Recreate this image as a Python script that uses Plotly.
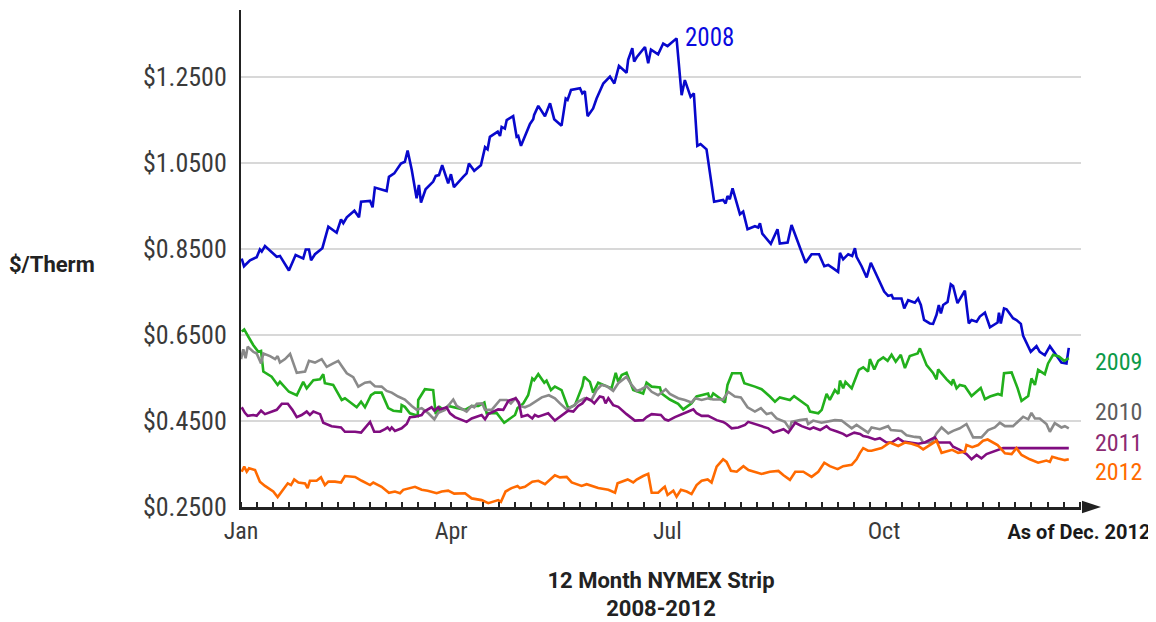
import plotly.graph_objects as go

# x = day of the year (Jan 1 = 0), y = $/Therm
days_2008 = [0.3,1.3,3.9,6.8,8.2,9.0,10.4,13.9,15.5,16.9,
20.8,23.7,27.0,28.1,29.5,30.4,32.1,35.3,37.9,41.5,
43.4,44.4,45.9,49.2,51.2,52.1,56.0,57.1,58.1,63.2,
64.2,66.5,69.4,71.1,72.3,74.1,76.2,77.2,78.1,80.1,
83.4,84.5,85.9,87.3,89.9,91.1,92.4,96.4,97.9,98.9,
101.2,104.1,105.9,107.0,108.0,111.4,112.4,113.1,114.5,115.3,
118.1,119.6,120.3,121.5,123.2,125.4,126.8,127.2,129.0,131.9,
134.1,135.9,139.1,140.9,141.7,143.2,147.1,148.1,149.2,150.4,
152.8,154.3,157.2,160.1,162.0,164.0,167.3,168.0,169.8,170.6,
171.7,175.3,176.7,177.9,181.0,183.2,185.1,189.0,191.2,192.6,
195.1,196.5,198.0,199.4,202.0,205.3,209.2,210.3,211.1,212.1,
213.3,216.5,217.9,219.8,223.0,224.4,225.2,226.2,229.9,232.8,
233.8,237.2,238.9,241.8,245.0,247.6,250.8,253.1,254.8,257.0,
259.1,259.9,261.3,263.5,265.2,266.4,267.1,269.3,271.5,273.3,
275.4,279.1,280.8,282.3,283.0,286.6,287.8,289.5,292.4,293.8,
295.0,296.4,298.9,300.3,301.8,302.8,303.7,304.7,306.6,308.0,
309.0,310.9,314.1,315.8,317.0,319.2,320.6,322.8,325.0,328.3,
328.9,329.7,331.1,332.2,335.0,336.5,338.4,339.4,342.7,345.2,
346.6,348.8,351.0,352.8,356.0,358.2,359.2]
vals_2008 = [0.828,0.810,0.824,0.831,0.849,0.844,0.857,0.841,0.832,0.834,
0.800,0.836,0.828,0.849,0.849,0.824,0.838,0.852,0.902,0.888,
0.919,0.910,0.924,0.939,0.924,0.960,0.962,0.947,0.993,0.985,
1.018,1.026,1.049,1.053,1.079,1.034,0.968,0.999,0.958,0.989,
1.007,1.020,1.022,1.045,1.003,1.024,0.994,1.018,1.026,1.049,
1.032,1.045,1.087,1.082,1.111,1.123,1.113,1.134,1.130,1.150,
1.159,1.111,1.113,1.090,1.111,1.141,1.152,1.162,1.183,1.159,
1.189,1.152,1.137,1.200,1.197,1.220,1.224,1.212,1.217,1.159,
1.177,1.200,1.235,1.251,1.235,1.276,1.260,1.290,1.317,1.286,
1.296,1.320,1.282,1.314,1.303,1.328,1.322,1.340,1.208,1.243,
1.204,1.212,1.090,1.094,1.082,0.960,0.964,0.956,0.973,0.966,
0.991,0.931,0.937,0.896,0.903,0.900,0.910,0.886,0.862,0.896,
0.863,0.865,0.906,0.865,0.818,0.838,0.838,0.810,0.813,0.805,
0.797,0.841,0.826,0.838,0.834,0.852,0.832,0.810,0.784,0.818,
0.794,0.751,0.741,0.743,0.735,0.735,0.712,0.731,0.725,0.735,
0.720,0.685,0.677,0.676,0.697,0.720,0.700,0.720,0.727,0.768,
0.764,0.724,0.753,0.677,0.685,0.681,0.693,0.702,0.668,0.679,
0.702,0.677,0.712,0.710,0.689,0.685,0.676,0.648,0.611,0.624,
0.611,0.603,0.624,0.611,0.586,0.584,0.620]

days_2009 = [0.3,1.4,3.2,5.3,7.5,8.7,9.7,13.3,15.9,16.9,
20.8,24.2,27.0,28.5,31.4,34.3,35.7,36.4,40.0,43.7,
45.1,50.2,52.1,53.8,56.4,58.1,61.0,63.9,66.1,69.4,
69.7,71.1,73.3,76.7,76.9,79.8,83.4,84.5,86.3,87.8,
89.9,92.8,97.2,100.1,103.0,105.6,106.6,110.9,114.2,118.9,
120.0,122.5,124.6,126.4,127.2,129.0,131.6,132.6,134.5,136.2,
139.1,142.0,144.9,148.1,148.9,151.4,152.8,155.0,157.6,160.8,
162.6,163.7,165.2,167.3,170.2,174.5,176.0,178.2,181.8,182.5,
186.1,188.3,189.7,191.9,195.5,197.7,202.7,203.5,204.9,207.8,
210.0,211.1,213.1,216.9,218.4,223.0,225.9,229.5,231.7,233.8,
236.3,238.2,240.0,243.3,245.9,246.9,250.5,252.0,254.1,255.5,
257.7,259.2,259.9,261.3,262.3,265.0,268.1,270.0,272.1,272.9,
274.8,276.5,278.7,280.6,282.3,284.1,286.3,288.1,290.2,293.6,
294.6,297.5,300.3,301.8,302.5,306.2,308.3,309.0,310.5,311.9,
314.1,317.0,321.0,322.8,325.0,328.5,330.0,331.1,334.4,337.0,
338.7,341.6,343.0,344.5,345.9,348.8,350.2,352.4,354.9,357.2,
359.2]
vals_2009 = [0.658,0.663,0.646,0.627,0.611,0.613,0.565,0.553,0.534,0.541,
0.518,0.510,0.541,0.526,0.545,0.547,0.559,0.538,0.534,0.499,
0.503,0.482,0.495,0.482,0.510,0.516,0.516,0.480,0.474,0.472,
0.487,0.483,0.468,0.462,0.499,0.524,0.522,0.466,0.482,0.476,
0.485,0.482,0.476,0.485,0.485,0.493,0.468,0.469,0.446,0.464,
0.480,0.491,0.510,0.549,0.545,0.559,0.539,0.544,0.522,0.530,
0.522,0.480,0.487,0.531,0.553,0.541,0.516,0.539,0.534,0.526,
0.562,0.541,0.557,0.562,0.522,0.514,0.539,0.530,0.528,0.514,
0.500,0.495,0.490,0.477,0.491,0.507,0.514,0.500,0.514,0.503,
0.493,0.534,0.561,0.561,0.538,0.530,0.524,0.507,0.495,0.505,
0.501,0.499,0.508,0.495,0.485,0.472,0.468,0.476,0.513,0.499,
0.522,0.513,0.544,0.526,0.541,0.526,0.569,0.575,0.565,0.594,
0.570,0.590,0.598,0.590,0.604,0.588,0.604,0.573,0.601,0.607,
0.619,0.580,0.562,0.547,0.570,0.547,0.536,0.547,0.526,0.534,
0.531,0.508,0.527,0.501,0.507,0.513,0.510,0.561,0.563,0.526,
0.497,0.508,0.549,0.534,0.569,0.559,0.584,0.604,0.600,0.590,
0.596]

days_2010 = [0.0,1.0,2.0,2.9,5.3,6.8,8.7,9.7,12.6,14.8,
15.9,16.9,19.1,21.3,24.2,27.8,29.5,32.1,35.0,37.2,
40.0,42.2,43.7,45.9,48.7,50.9,53.8,56.0,58.1,61.0,
63.2,65.4,68.2,71.1,74.1,76.2,78.4,81.3,83.9,85.6,
88.5,92.1,93.6,97.9,100.1,101.2,102.3,104.7,105.9,108.8,
112.4,115.3,117.1,119.2,121.0,123.2,125.4,127.5,130.5,133.6,
136.2,138.4,141.3,144.2,146.3,149.2,152.1,154.3,156.5,158.7,
161.5,163.7,167.3,169.5,171.7,173.8,176.0,178.2,181.0,184.3,
186.1,189.7,192.6,195.5,197.0,199.9,202.7,204.9,209.2,211.4,
214.3,216.9,219.8,223.0,225.6,228.1,230.2,232.4,236.0,238.2,
238.9,242.5,245.4,246.1,248.3,251.9,257.7,260.6,265.0,267.1,
272.1,273.6,277.2,280.8,282.0,286.6,288.8,292.4,294.6,296.0,
299.7,301.8,304.0,306.9,309.0,311.9,314.8,317.7,321.3,324.2,
327.1,329.3,331.5,335.0,337.9,339.4,341.6,343.0,344.5,346.6,
349.5,351.0,353.1,356.0,357.5,359.2]
vals_2010 = [0.594,0.617,0.596,0.623,0.611,0.607,0.584,0.607,0.601,0.594,
0.601,0.586,0.594,0.606,0.562,0.565,0.590,0.586,0.594,0.576,
0.584,0.590,0.578,0.561,0.552,0.530,0.539,0.541,0.531,0.530,
0.520,0.516,0.507,0.500,0.485,0.476,0.480,0.468,0.454,0.469,
0.476,0.500,0.485,0.472,0.485,0.482,0.490,0.491,0.476,0.476,
0.499,0.499,0.491,0.503,0.485,0.482,0.487,0.495,0.505,0.510,
0.503,0.491,0.477,0.485,0.495,0.503,0.499,0.522,0.534,0.531,
0.520,0.538,0.553,0.534,0.520,0.524,0.531,0.518,0.510,0.524,
0.513,0.503,0.499,0.493,0.503,0.499,0.503,0.500,0.500,0.518,
0.507,0.505,0.482,0.472,0.480,0.466,0.469,0.456,0.448,0.431,
0.448,0.452,0.454,0.443,0.451,0.446,0.452,0.451,0.433,0.441,
0.423,0.435,0.431,0.438,0.429,0.427,0.417,0.413,0.412,0.400,
0.400,0.421,0.435,0.421,0.427,0.433,0.443,0.412,0.412,0.429,
0.435,0.446,0.438,0.438,0.451,0.460,0.454,0.469,0.456,0.456,
0.443,0.425,0.445,0.435,0.438,0.433]

days_2011 = [0.3,1.7,2.9,5.3,6.8,8.7,10.4,13.3,15.5,17.7,
20.3,22.3,24.2,26.3,28.5,29.9,31.4,34.3,35.7,39.3,
43.4,45.1,49.5,52.1,53.8,56.0,57.8,60.3,62.5,63.6,
64.6,65.4,66.8,69.7,71.9,73.3,75.5,78.4,79.5,82.7,
83.9,85.6,86.3,89.2,90.7,92.1,92.8,97.9,100.1,104.4,
105.9,107.3,111.6,113.8,116.0,119.2,120.6,121.8,124.4,126.4,
127.5,129.0,133.3,136.2,138.4,140.6,142.0,144.2,146.3,148.1,
150.0,152.1,153.3,155.7,157.2,158.2,159.4,161.5,163.7,167.3,
170.9,174.5,176.0,178.2,181.0,182.2,183.9,185.4,188.3,191.9,
194.1,196.3,197.7,199.9,202.7,206.4,209.2,210.7,212.9,215.8,
218.7,220.1,223.0,225.9,228.8,231.0,233.2,235.4,237.5,240.5,
243.3,246.9,248.4,251.3,254.1,255.6,258.9,261.3,262.8,266.1,
268.6,270.0,272.1,275.1,277.2,280.1,282.3,285.2,287.4,291.7,
293.9,296.7,301.1,302.5,305.4,307.6,309.0,311.9,314.8,317.0,
319.2,321.3,323.5,326.4,330.7,359.2]
vals_2011 = [0.482,0.469,0.462,0.464,0.462,0.474,0.466,0.472,0.476,0.490,
0.490,0.476,0.459,0.464,0.472,0.464,0.472,0.466,0.446,0.438,
0.435,0.425,0.425,0.423,0.433,0.448,0.425,0.425,0.431,0.435,
0.429,0.435,0.427,0.433,0.443,0.459,0.460,0.464,0.472,0.482,
0.474,0.482,0.477,0.482,0.468,0.462,0.459,0.448,0.456,0.464,
0.454,0.466,0.477,0.476,0.497,0.503,0.493,0.460,0.464,0.456,
0.464,0.460,0.468,0.451,0.460,0.469,0.474,0.472,0.485,0.491,
0.503,0.497,0.491,0.507,0.505,0.491,0.503,0.487,0.483,0.466,
0.451,0.452,0.459,0.466,0.464,0.464,0.454,0.451,0.459,0.466,
0.472,0.477,0.468,0.462,0.462,0.452,0.448,0.443,0.433,0.435,
0.441,0.448,0.443,0.438,0.433,0.423,0.427,0.431,0.423,0.446,
0.438,0.431,0.435,0.429,0.438,0.431,0.425,0.420,0.415,0.423,
0.420,0.415,0.413,0.407,0.410,0.400,0.400,0.410,0.402,0.398,
0.397,0.400,0.412,0.400,0.400,0.400,0.390,0.383,0.373,0.361,
0.371,0.363,0.373,0.379,0.387,0.387]

days_2012 = [0.3,1.4,2.5,3.5,6.1,8.2,10.4,14.0,15.9,17.7,
20.3,21.7,23.1,24.9,27.8,28.9,29.9,32.8,34.7,36.4,
37.9,40.8,43.4,45.1,49.5,52.4,56.0,57.4,61.0,64.2,
66.8,69.0,70.4,75.5,78.4,81.0,84.9,87.1,89.9,92.5,
97.2,100.1,104.4,107.3,111.6,112.8,114.8,117.4,120.0,121.0,
123.2,126.4,129.0,131.9,136.2,138.4,141.3,143.5,147.8,150.0,
152.1,155.0,159.4,162.3,163.4,165.2,167.8,170.2,171.7,174.5,
176.7,178.2,181.0,183.2,183.9,185.1,187.6,189.0,190.9,193.4,
195.5,197.7,199.9,202.5,204.2,206.4,209.2,210.7,212.6,215.1,
218.0,220.2,223.0,225.9,229.5,233.2,235.4,238.2,240.5,244.0,
247.6,250.5,253.1,255.5,258.9,261.3,265.0,267.1,268.6,270.0,
272.1,273.6,278.0,281.6,285.2,288.1,291.0,293.9,296.0,298.9,
301.8,304.0,306.2,308.6,311.2,314.1,314.8,317.3,319.9,322.0,
324.0,325.7,328.3,330.0,331.5,334.4,336.5,338.7,342.3,345.9,
349.5,351.0,352.0,354.6,357.5,359.2]
vals_2012 = [0.332,0.344,0.332,0.340,0.336,0.309,0.299,0.286,0.273,0.286,
0.305,0.301,0.314,0.307,0.305,0.294,0.311,0.311,0.319,0.301,
0.309,0.309,0.307,0.322,0.320,0.311,0.301,0.307,0.297,0.283,
0.286,0.282,0.290,0.297,0.290,0.288,0.282,0.286,0.288,0.281,
0.282,0.270,0.266,0.259,0.266,0.262,0.286,0.294,0.299,0.294,
0.297,0.309,0.311,0.303,0.324,0.319,0.320,0.307,0.299,0.303,
0.299,0.294,0.290,0.283,0.305,0.309,0.314,0.307,0.314,0.322,
0.327,0.283,0.283,0.294,0.297,0.278,0.288,0.274,0.290,0.286,
0.280,0.301,0.311,0.314,0.307,0.344,0.361,0.355,0.334,0.332,
0.345,0.336,0.332,0.327,0.332,0.334,0.324,0.313,0.332,0.332,
0.320,0.332,0.353,0.345,0.338,0.345,0.348,0.361,0.376,0.387,
0.381,0.381,0.387,0.400,0.392,0.400,0.397,0.392,0.384,0.394,
0.404,0.376,0.379,0.383,0.376,0.379,0.394,0.389,0.394,0.404,
0.407,0.402,0.394,0.384,0.375,0.373,0.387,0.371,0.361,0.353,
0.358,0.355,0.367,0.363,0.359,0.361]

series_names = ["2008", "2009", "2010", "2011", "2012"]
series_days = [days_2008, days_2009, days_2010, days_2011, days_2012]
series_values = [vals_2008, vals_2009, vals_2010, vals_2011, vals_2012]
line_colors = ["#0808cc", "#22b01c", "#8a8a8a", "#800d80", "#ff6a00"]
label_colors = ["#0a0ae0", "#0c9a48", "#5c5c5c", "#8c2a72", "#ff6a00"]

month_ticks = [0, 91.2, 185, 279, 363.6]
month_labels = ["Jan", "Apr", "Jul", "Oct",
                "<b><span style='color:#1a1a1a;font-size:20px;font-family:Roboto'>As of Dec. 2012</span></b>"]
y_ticks = [0.25, 0.45, 0.65, 0.85, 1.05, 1.25]
y_tick_labels = ["$0.2500", "$0.4500", "$0.6500", "$0.8500", "$1.0500", "$1.2500"]

FONT_C = "Roboto Condensed, Liberation Sans Narrow, Roboto, sans-serif"
FONT_B = "Roboto, Liberation Sans, sans-serif"

fig = go.Figure()
for name, xs, vals, col in zip(series_names, series_days, series_values, line_colors):
    fig.add_trace(go.Scatter(x=xs, y=vals, mode="lines", name=name,
                             line=dict(color=col, width=2.6), showlegend=False))

annotations = [
    dict(text="<b>$/Therm</b>", xref="paper", yref="paper", x=-0.278, y=0.487,
         xanchor="left", yanchor="middle", showarrow=False,
         font=dict(size=22, color="#222", family=FONT_B)),
    dict(text="2008", xref="x", yref="y", x=192, y=1.343, xanchor="left",
         yanchor="middle", showarrow=False, font=dict(size=25, color=label_colors[0], family=FONT_C)),
]
label_y = {"2009": 0.588, "2010": 0.472, "2011": 0.398, "2012": 0.332}
for name, col in zip(series_names[1:], label_colors[1:]):
    annotations.append(dict(text=name, xref="paper", yref="y", x=1.014, y=label_y[name],
                            xanchor="left", yanchor="middle", showarrow=False,
                            font=dict(size=24, color=col, family=FONT_C)))

# page body adds an 8px offset, so margins are reduced by 8 on left/top
fig.update_layout(
    width=1156, height=622,
    margin=dict(l=233, r=83, t=2, b=123, autoexpand=False),
    plot_bgcolor="white", paper_bgcolor="white",
    font=dict(family=FONT_C, color="#3a3a3a"),
    annotations=annotations,
    shapes=[dict(type="path", xref="paper", yref="paper",
                 path="M 1.0012 0.0125 L 1.0238 0 L 1.0012 -0.0125 Z",
                 fillcolor="#222", line=dict(width=0))],
    xaxis=dict(range=[0, 364.5], showline=True, linecolor="#222", linewidth=3,
               tickmode="array", tickvals=month_ticks, ticktext=month_labels,
               ticks="", showgrid=False, zeroline=False, automargin=False,
               tickfont=dict(size=24, color="#3a3a3a", family=FONT_C),
               minor=dict(tickmode="linear", tick0=0, dtick=7, ticks="inside",
                          ticklen=5, tickwidth=1.5, tickcolor="#222", showgrid=False),
               title=dict(text="<b>12 Month NYMEX Strip</b><br><b>2008-2012</b>",
                          font=dict(size=22, color="#222", family=FONT_B), standoff=29)),
    yaxis=dict(range=[0.25, 1.406], showline=True, linecolor="#222", linewidth=2,
               tickmode="array", tickvals=y_ticks, ticktext=y_tick_labels,
               ticks="", showgrid=True, gridcolor="#d8d8d8", gridwidth=1.5,
               zeroline=False, ticklabelstandoff=7, automargin=False,
               tickfont=dict(size=26, color="#3a3a3a", family=FONT_C)),
)

fig.write_html("out.html")
